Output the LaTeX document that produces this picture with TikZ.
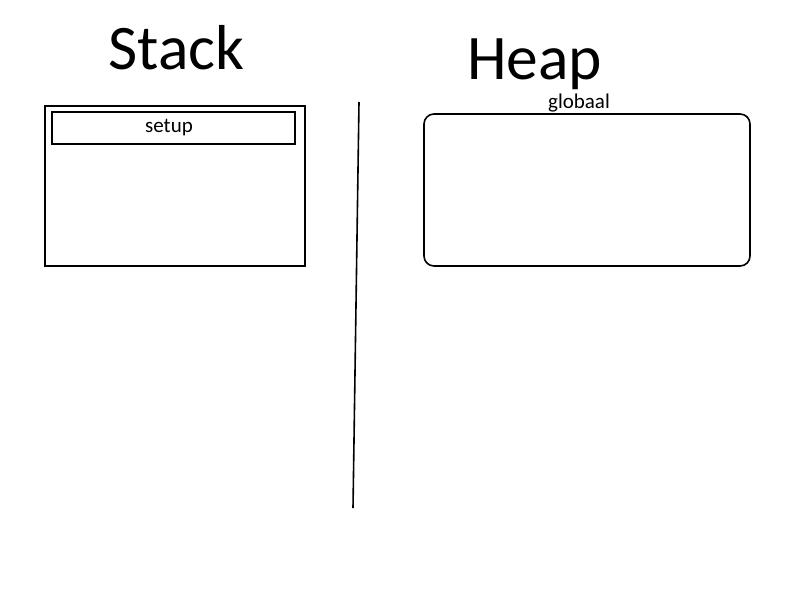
\documentclass[tikz,border=0pt]{standalone}
\usepackage{fontspec}
\setmainfont{Carlito}
\begin{document}
\begin{tikzpicture}[x=1pt,y=-1pt,
  box/.style={draw=black,line width=1.6pt},
  title/.style={anchor=base,inner sep=0pt,font=\fontsize{63.5}{70}\selectfont},
  label/.style={anchor=base,inner sep=0pt,font=\fontsize{21}{24}\selectfont}]
\useasboundingbox (0,0) rectangle (800,600);
\draw[box] (45,106) rectangle (305,266);
\draw[box] (52,112) rectangle (295,144);
\draw[box,rounded corners=10pt] (424,114) rectangle (750,266);
\node[title] (stack) at (176.5,69) {Stack};
\node[title] (heap) at (534.5,79.5) {Heap};
\node[label] (setup) at (169,132) {setup};
\node[label] (globaal) at (579,108.5) {globaal};
\coordinate (d1) at (359,102);
\coordinate (d2) at (353,508);
\draw[line width=1.6pt] (d1) -- (d2);
\end{tikzpicture}
\end{document}
